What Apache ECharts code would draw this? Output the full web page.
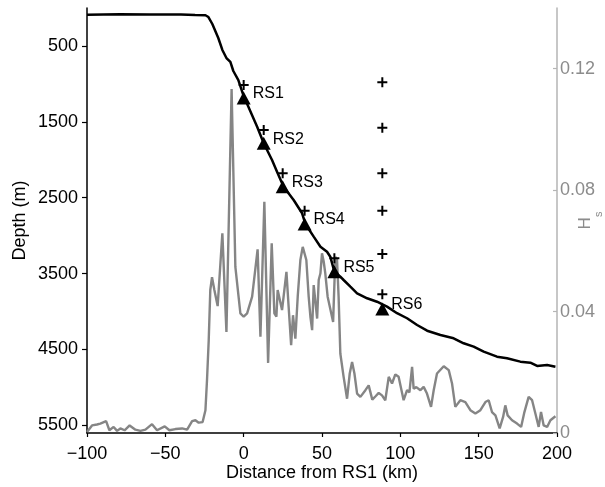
<!DOCTYPE html>
<html><head><meta charset="utf-8">
<script src="https://cdn.jsdelivr.net/npm/echarts@6/dist/echarts.min.js"></script>
<style>html,body{margin:0;padding:0;background:#fff}#c{width:605px;height:487px}</style>
</head><body><div id="c"></div>
<script>
const bathyDist = [-100,-79,-60,-40,-31,-24.4,-22.5,-20,-16.2,-13.6,-11,-9.8,-8.5,-6.6,-3.4,0,8.6,12.8,18.1,21.7,25.5,31.9,37.3,39.4,44.7,49,53.2,55.3,57.9,61.7,63.8,68.1,72.4,78.8,85.1,91.5,97.9,104.3,110.7,117.1,125.6,134,140.4,146.8,153.2,161.7,168.1,176.6,183,187.3,193.7,199];
const bathyDepth = [88,83,86,86,92,96,119,211,395,553,659,646,711,830,949,1160,1564,1783,2003,2178,2354,2530,2705,2846,3013,3145,3211,3277,3474,3540,3584,3672,3759,3825,3870,3935,4022,4088,4177,4252,4308,4352,4418,4462,4528,4594,4615,4660,4673,4717,4704,4726];
const hsDist = [-100,-96.8,-93.6,-91.5,-87.8,-85.7,-83,-80.8,-78.7,-76,-72.8,-69.1,-65.9,-62.7,-58.5,-55.3,-50.4,-47.4,-43.6,-39.3,-36.1,-32.9,-30.8,-28.7,-26.2,-24.4,-23.4,-22.3,-21.3,-20.2,-18.7,-16.6,-13.6,-11,-7.7,-5.3,-2.1,0,2.2,5.4,8.9,10.7,13.2,15.6,17.9,19.6,20.9,21.7,24.5,27.3,28.7,30.3,31.5,33,34.5,36.2,37.7,38.9,40,41.5,42.6,43.7,44.7,46.9,47.9,49,50,51.1,52.1,53.6,57.1,58.5,59.6,60.6,61.7,63.8,66,67.7,69.2,70.7,72.4,74.5,77.7,79.8,82.1,84.2,86.2,88.3,90.4,92.6,94.7,96.8,98.9,102.1,104.3,105.8,107.5,108.5,110.2,112.8,114.9,117,119.6,121.3,123.4,127.7,130.9,133,135.1,138.3,141.5,144.7,147.9,151.1,154.3,156.4,158.5,160.7,163.4,165.6,167,168.5,171.3,174.5,177.1,179.2,181.9,184.1,186.2,188.3,189.8,191.5,193.7,195.8,199];
const hsValue = [0.0003,0.0025,0.0028,0.0031,0.0039,0.0009,0.002,0.0007,0.0015,0.0009,0.0025,0.0011,0.0007,0.0011,0.0029,0.0009,0.0022,0.0009,0.0013,0.0015,0.0011,0.0039,0.0042,0.0034,0.0036,0.0075,0.0174,0.0306,0.0471,0.0513,0.0471,0.0418,0.0658,0.0333,0.1133,0.0547,0.0394,0.0383,0.0394,0.0449,0.0605,0.0317,0.0762,0.0231,0.0625,0.0394,0.0383,0.0471,0.0405,0.0531,0.0416,0.0289,0.0388,0.0311,0.0449,0.057,0.0613,0.0608,0.057,0.0449,0.0383,0.0339,0.0487,0.0377,0.0504,0.0526,0.0592,0.0564,0.0526,0.0449,0.0366,0.058,0.057,0.0449,0.0262,0.0185,0.0113,0.0196,0.0234,0.0196,0.013,0.0119,0.0141,0.0157,0.011,0.0121,0.0132,0.0124,0.0108,0.0185,0.0163,0.0193,0.0185,0.0108,0.0141,0.0134,0.0218,0.0146,0.0151,0.0141,0.0152,0.013,0.0086,0.0141,0.0196,0.022,0.0207,0.0163,0.0086,0.0108,0.0102,0.0075,0.0064,0.0075,0.0102,0.0108,0.0069,0.0058,0.0015,0.0053,0.0091,0.0058,0.0042,0.0031,0.002,0.0069,0.0119,0.0108,0.0064,0.002,0.0069,0.0025,0.002,0.0042,0.0055];
const stationNames = ['RS1','RS2','RS3','RS4','RS5','RS6'];
const stationDist = [0,12.8,24.9,38.9,57.9,88.5];
const stationDepth = [1186,1783,2354,2846,3474,3966];
const sensorDist = [0,12.8,24.9,38.9,57.9,88.5,88.5,88.5,88.5,88.5,88.5];
const sensorDepth = [1014,1607,2178,2671,3298,3772,979,1577,2178,2671,3241];
const depthTicks = [500,1500,2500,3500,4500,5500];
const hsTicks = [0,0.04,0.08,0.12];

const FONT = "'Liberation Sans', Arial, sans-serif";
const zip = (a,b) => a.map((v,i) => [v,b[i]]);
const chart = echarts.init(document.getElementById('c'), null, {renderer:'canvas'});
chart.setOption({
  animation:false,
  backgroundColor:'#fff',
  textStyle:{fontFamily:FONT},
  grid:{left:87,right:48,top:8,bottom:54,containLabel:false,outerBoundsMode:'none'},
  xAxis:{
    type:'value',min:-100,max:200,interval:50,
    name:'Distance from RS1 (km)',nameLocation:'middle',nameGap:31,nameMoveOverlap:false,
    nameTextStyle:{fontSize:18,color:'#000',fontFamily:FONT},
    axisLine:{show:true,onZero:false,lineStyle:{color:'#000',width:1.5}},
    axisTick:{show:true,length:4,lineStyle:{color:'#000',width:1.2}},
    axisLabel:{fontSize:18,color:'#000',margin:12,fontFamily:FONT,
      formatter:v => v<0 ? '\u2212'+Math.abs(v) : String(v)},
    splitLine:{show:false}
  },
  yAxis:[{
    type:'value',min:0,max:5600,inverse:true,position:'left',
    name:'Depth (m)',nameLocation:'middle',nameGap:58,nameRotate:90,nameMoveOverlap:false,
    nameTextStyle:{fontSize:18,color:'#000',fontFamily:FONT},
    axisLine:{show:true,onZero:false,lineStyle:{color:'#000',width:1.5}},
    axisTick:{show:true,length:5,customValues:depthTicks,lineStyle:{color:'#000',width:1.2}},
    axisLabel:{fontSize:18,color:'#000',margin:9,customValues:depthTicks,fontFamily:FONT,
      formatter:v => String(v)},
    splitLine:{show:false}
  },{
    type:'value',min:0,max:0.14,position:'right',
    name:'{h|H}{s|s}',nameLocation:'middle',nameGap:10,nameRotate:90,nameMoveOverlap:false,
    nameTextStyle:{color:'#8c8c8c',fontFamily:FONT,
      rich:{h:{fontSize:17,color:'#8c8c8c',lineHeight:20,fontFamily:FONT},
            s:{fontSize:11,color:'#8c8c8c',padding:[26,0,0,0],fontFamily:FONT}}},
    axisLine:{show:true,onZero:false,lineStyle:{color:'#b5b5b5',width:1.5}},
    axisTick:{show:true,inside:true,length:4,customValues:hsTicks,lineStyle:{color:'#b5b5b5',width:1.2}},
    axisLabel:{fontSize:18,color:'#8c8c8c',margin:3,customValues:hsTicks,fontFamily:FONT,
      formatter:v => v===0 ? '0' : v.toFixed(2)},
    splitLine:{show:false}
  }],
  series:[{
    type:'line',yAxisIndex:1,data:zip(hsDist,hsValue),showSymbol:false,
    lineStyle:{color:'#858585',width:2.4},z:2
  },{
    type:'line',yAxisIndex:0,data:zip(bathyDist,bathyDepth),showSymbol:false,
    lineStyle:{color:'#000',width:2.5},z:3
  },{
    type:'scatter',yAxisIndex:0,data:zip(stationDist,stationDepth),
    symbol:'triangle',symbolSize:[14,13],itemStyle:{color:'#000',opacity:1},z:4,
    label:{show:true,position:'right',distance:2,offset:[0,-4],fontSize:16,color:'#000',fontFamily:FONT,
      formatter:p => stationNames[p.dataIndex]}
  },{
    type:'scatter',yAxisIndex:0,data:zip(sensorDist,sensorDepth),
    symbol:'path://M4,0H6V4H10V6H6V10H4V6H0V4H4Z',symbolSize:10,itemStyle:{color:'#000',opacity:1},z:5
  }]
});
</script></body></html>
